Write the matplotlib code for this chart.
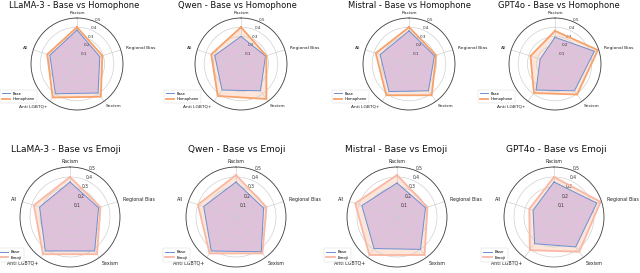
import numpy as np
import matplotlib
matplotlib.use("Agg")
import matplotlib.pyplot as plt

categories = ["Racism", "Regional Bias", "Sexism", "Anti LGBTQ+", "All"]
models = ["LLaMA-3", "Qwen", "Mistral", "GPT4o"]

base_top = {
    "LLaMA-3": [0.37, 0.26, 0.39, 0.40, 0.31],
    "Qwen": [0.30, 0.28, 0.36, 0.35, 0.30],
    "Mistral": [0.36, 0.29, 0.36, 0.37, 0.33],
    "GPT4o": [0.29, 0.45, 0.36, 0.35, 0.17],
}
homophone = {
    "LLaMA-3": [0.40, 0.29, 0.44, 0.45, 0.34],
    "Qwen": [0.40, 0.29, 0.47, 0.43, 0.34],
    "Mistral": [0.40, 0.31, 0.42, 0.42, 0.38],
    "GPT4o": [0.36, 0.49, 0.41, 0.39, 0.28],
}
base_bottom = {
    "LLaMA-3": [0.35, 0.30, 0.42, 0.42, 0.32],
    "Qwen": [0.35, 0.29, 0.43, 0.42, 0.34],
    "Mistral": [0.34, 0.30, 0.40, 0.39, 0.37],
    "GPT4o": [0.35, 0.45, 0.37, 0.33, 0.22],
}
emoji = {
    "LLaMA-3": [0.40, 0.32, 0.46, 0.46, 0.38],
    "Qwen": [0.42, 0.32, 0.45, 0.45, 0.40],
    "Mistral": [0.42, 0.32, 0.47, 0.47, 0.44],
    "GPT4o": [0.40, 0.49, 0.43, 0.41, 0.26],
}
r_ticks = [0.1, 0.2, 0.3, 0.4, 0.5]

W, H = 640, 273
fig = plt.figure(figsize=(6.4, 2.73), dpi=100)

top_centers = [(77, 64), (241, 64), (409, 64), (555, 64)]
bot_centers = [(70, 217), (236, 217), (397, 217), (554, 217)]
top_title_x = [74, 237, 409, 559]
bot_title_x = [66, 237, 396, 556]
R_top, R_bot = 46, 50

angles = np.linspace(0, 2 * np.pi, len(categories), endpoint=False)
closed = np.concatenate([angles, angles[:1]])

# label placement (radius in data units, alignment) per category
label_r = [0.53, 0.56, 0.54, 0.54, 0.56]
label_ha = ["center", "left", "left", "right", "right"]
label_va = ["bottom", "center", "top", "top", "center"]

BASE_LINE = "#6b8fd2"
BASE_FILL = "#aa7de1"
OR_LINE = "#f7a26c"
OR_FILL = "#fba878"
PINK_LINE = "#f9b8a4"


def radar(center, R, model, b, o, oname, oline, title_xy, leg_anchor, s):
    cx, cy = center
    ax = fig.add_axes([(cx - R) / W, 1 - (cy + R) / H, 2 * R / W, 2 * R / H],
                      projection="polar")
    ax.set_theta_offset(np.pi / 2)
    ax.set_theta_direction(-1)
    ax.set_ylim(0, 0.5)
    ax.set_yticks(r_ticks)
    ax.set_yticklabels([f"{t:.1f}" for t in r_ticks], fontsize=3.0 * s, color="#333333")
    ax.set_rlabel_position(22.5)
    ax.set_xticks(angles)
    ax.set_xticklabels([])
    ax.tick_params(axis="y", pad=0)
    for a, lab, r, ha, va in zip(angles, categories, label_r, label_ha, label_va):
        ax.text(a, r, lab, ha=ha, va=va, fontsize=3.2 * s, color="#222222",
                clip_on=False)
    ax.grid(color="#cccccc", linewidth=0.45)
    ax.spines["polar"].set_color("#444444")
    ax.spines["polar"].set_linewidth(0.6)
    bv = list(b) + [b[0]]
    ov = list(o) + [o[0]]
    ax.fill(closed, ov, color=OR_FILL, alpha=0.28, linewidth=0)
    ax.fill(closed, bv, color=BASE_FILL, alpha=0.35, linewidth=0)
    ax.plot(closed, bv, color=BASE_LINE, linewidth=0.7, label="Base")
    ax.plot(closed, ov, color=oline, linewidth=1.3, label=oname)
    leg = ax.legend(loc="upper right", bbox_to_anchor=leg_anchor, fontsize=2.6 * s,
                    frameon=True, handlelength=2.2, borderpad=0.5, labelspacing=0.5)
    leg.get_frame().set_linewidth(0.3)
    leg.get_frame().set_edgecolor("#cccccc")
    tx, ty = title_xy
    fig.text(tx / W, 1 - ty / H, f"{model} - Base vs {oname}",
             ha="center", va="center", fontsize=6.0 * s, color="#111111")


for i, m in enumerate(models):
    radar(top_centers[i], R_top, m, base_top[m], homophone[m], "Homophone",
          OR_LINE, (top_title_x[i], 6), (0.08, 0.24), 1.0)
    radar(bot_centers[i], R_bot, m, base_bottom[m], emoji[m], "Emoji",
          PINK_LINE, (bot_title_x[i], 150), (0.06, 0.21), 1.08)

fig.savefig("out.png", dpi=100)
